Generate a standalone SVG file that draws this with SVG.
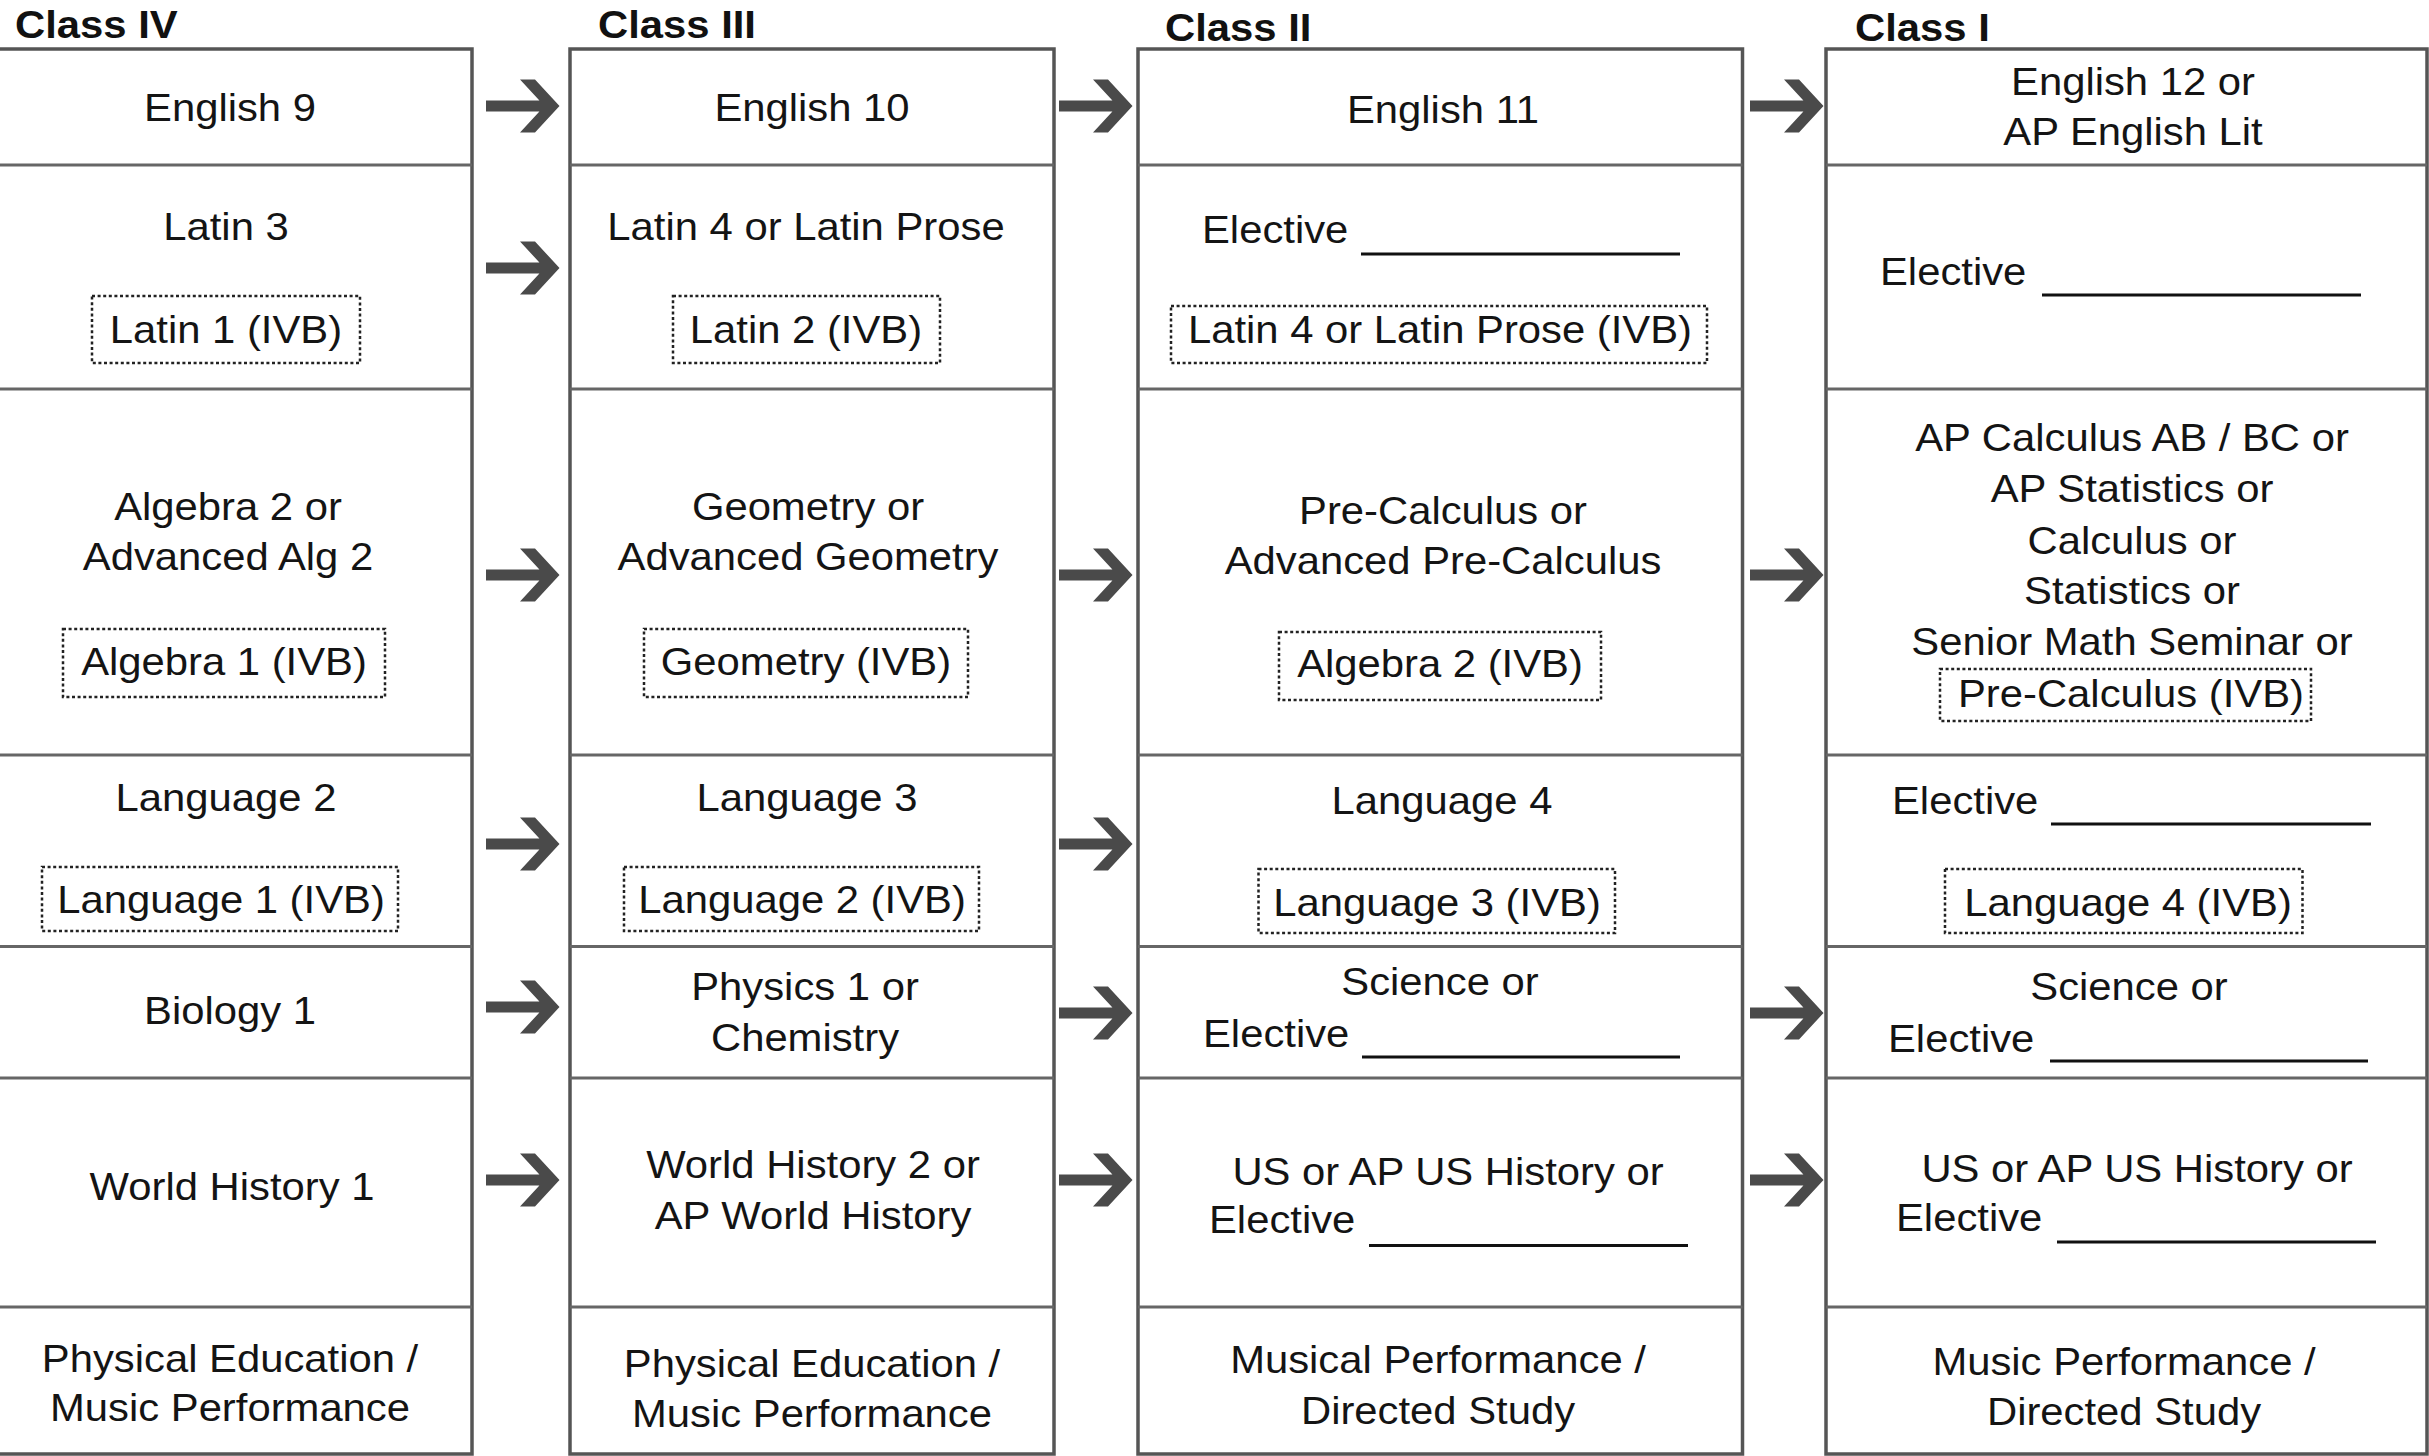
<svg xmlns="http://www.w3.org/2000/svg" xmlns:xlink="http://www.w3.org/1999/xlink" width="2429" height="1456" viewBox="0 0 2429 1456">
<style>
text{font-family:"Liberation Sans",Arial,sans-serif;font-size:38px;fill:#141414}
.h{font-weight:bold;fill:#111}
.c{text-anchor:middle}
.frame{fill:#fff;stroke:#555;stroke-width:3.5}
.div{stroke:#666;stroke-width:3}
.dot{fill:none;stroke:#222;stroke-width:2.5;stroke-dasharray:3 2.6}
.ul{stroke:#111;stroke-width:3}
.arr{fill:#4a4a4a}
</style>
<defs>
<path id="arrow" d="M0,-5.5H60V5.5H0Z M34,-26.5H49L73.5,0L49,26.5H34L58.5,0Z"/>
</defs>
<rect width="2429" height="1456" fill="#fff"/>

<g id="headers">
<text class="h" transform="translate(15,37.5) scale(1.1,1)">Class IV</text>
<text class="h" transform="translate(598,37.5) scale(1.1,1)">Class III</text>
<text class="h" transform="translate(1165,40.5) scale(1.1,1)">Class II</text>
<text class="h" transform="translate(1855,40.5) scale(1.1,1)">Class I</text>
</g>

<g id="frames">
<g id="frame-class-iv">
<rect class="frame" x="-12" y="49" width="484" height="1405"/>
<path class="div" d="M-12,165H472M-12,389H472M-12,755H472M-12,946.5H472M-12,1078H472M-12,1307H472"/>
</g>
<g id="frame-class-iii">
<rect class="frame" x="570" y="49" width="484" height="1405"/>
<path class="div" d="M570,165H1054M570,389H1054M570,755H1054M570,946.5H1054M570,1078H1054M570,1307H1054"/>
</g>
<g id="frame-class-ii">
<rect class="frame" x="1138" y="49" width="604.5" height="1405"/>
<path class="div" d="M1138,165H1742.5M1138,389H1742.5M1138,755H1742.5M1138,946.5H1742.5M1138,1078H1742.5M1138,1307H1742.5"/>
</g>
<g id="frame-class-i">
<rect class="frame" x="1826" y="49" width="601" height="1405"/>
<path class="div" d="M1826,165H2427M1826,389H2427M1826,755H2427M1826,946.5H2427M1826,1078H2427M1826,1307H2427"/>
</g>
</g>

<!-- Class IV -->
<g id="iv-english">
<text class="c" transform="translate(230,120.7) scale(1.1,1)">English 9</text>
</g>
<g id="iv-latin">
<text class="c" transform="translate(226,240) scale(1.1,1)">Latin 3</text>
<rect class="dot" x="92" y="296" width="268" height="67"/>
<text class="c" transform="translate(226,343) scale(1.1,1)">Latin 1 (IVB)</text>
</g>
<g id="iv-math">
<text class="c" transform="translate(228,520) scale(1.1,1)">Algebra 2 or<tspan x="0" dy="50">Advanced Alg 2</tspan></text>
<rect class="dot" x="63" y="629" width="322" height="68"/>
<text class="c" transform="translate(224,675) scale(1.1,1)">Algebra 1 (IVB)</text>
</g>
<g id="iv-language">
<text class="c" transform="translate(226,810.5) scale(1.1,1)">Language 2</text>
<rect class="dot" x="42" y="867" width="356" height="64"/>
<text class="c" transform="translate(221,913) scale(1.1,1)">Language 1 (IVB)</text>
</g>
<g id="iv-science">
<text class="c" transform="translate(230,1024) scale(1.1,1)">Biology 1</text>
</g>
<g id="iv-history">
<text class="c" transform="translate(232,1200) scale(1.1,1)">World History 1</text>
</g>
<g id="iv-arts">
<text class="c" transform="translate(230,1372) scale(1.1,1)">Physical Education /<tspan x="0" dy="49">Music Performance</tspan></text>
</g>

<!-- Class III -->
<g id="iii-english">
<text class="c" transform="translate(812,120.7) scale(1.1,1)">English 10</text>
</g>
<g id="iii-latin">
<text class="c" transform="translate(806,240) scale(1.1,1)">Latin 4 or Latin Prose</text>
<rect class="dot" x="673" y="296" width="267" height="67"/>
<text class="c" transform="translate(806,343) scale(1.1,1)">Latin 2 (IVB)</text>
</g>
<g id="iii-math">
<text class="c" transform="translate(808,520) scale(1.1,1)">Geometry or<tspan x="0" dy="50">Advanced Geometry</tspan></text>
<rect class="dot" x="644" y="629" width="324" height="68"/>
<text class="c" transform="translate(806,675) scale(1.1,1)">Geometry (IVB)</text>
</g>
<g id="iii-language">
<text class="c" transform="translate(807,810.5) scale(1.1,1)">Language 3</text>
<rect class="dot" x="624" y="867" width="355" height="64"/>
<text class="c" transform="translate(802,913) scale(1.1,1)">Language 2 (IVB)</text>
</g>
<g id="iii-science">
<text class="c" transform="translate(805,1000) scale(1.1,1)">Physics 1 or<tspan x="0" dy="51">Chemistry</tspan></text>
</g>
<g id="iii-history">
<text class="c" transform="translate(813,1178) scale(1.1,1)">World History 2 or<tspan x="0" dy="51">AP World History</tspan></text>
</g>
<g id="iii-arts">
<text class="c" transform="translate(812,1377) scale(1.1,1)">Physical Education /<tspan x="0" dy="50">Music Performance</tspan></text>
</g>

<!-- Class II -->
<g id="ii-english">
<text class="c" transform="translate(1443,123) scale(1.1,1)">English 11</text>
</g>
<g id="ii-latin">
<text transform="translate(1202,243) scale(1.1,1)">Elective</text>
<line class="ul" x1="1361" y1="254" x2="1680" y2="254"/>
<rect class="dot" x="1171" y="306" width="536" height="57"/>
<text class="c" transform="translate(1440,343) scale(1.1,1)">Latin 4 or Latin Prose (IVB)</text>
</g>
<g id="ii-math">
<text class="c" transform="translate(1443,523.5) scale(1.1,1)">Pre-Calculus or<tspan x="0" dy="51">Advanced Pre-Calculus</tspan></text>
<rect class="dot" x="1279" y="632" width="322" height="68"/>
<text class="c" transform="translate(1440,676.6) scale(1.1,1)">Algebra 2 (IVB)</text>
</g>
<g id="ii-language">
<text class="c" transform="translate(1442,813.6) scale(1.1,1)">Language 4</text>
<rect class="dot" x="1258.5" y="869" width="356.5" height="64"/>
<text class="c" transform="translate(1437,916) scale(1.1,1)">Language 3 (IVB)</text>
</g>
<g id="ii-science">
<text class="c" transform="translate(1440,994.5) scale(1.1,1)">Science or</text>
<text transform="translate(1203,1046.5) scale(1.1,1)">Elective</text>
<line class="ul" x1="1362" y1="1057" x2="1680" y2="1057"/>
</g>
<g id="ii-history">
<text class="c" transform="translate(1448,1185) scale(1.1,1)">US or AP US History or</text>
<text transform="translate(1209,1233) scale(1.1,1)">Elective</text>
<line class="ul" x1="1369" y1="1245.5" x2="1688" y2="1245.5"/>
</g>
<g id="ii-arts">
<text class="c" transform="translate(1438,1373) scale(1.1,1)">Musical Performance /<tspan x="0" dy="51">Directed Study</tspan></text>
</g>

<!-- Class I -->
<g id="i-english">
<text class="c" transform="translate(2133,95) scale(1.1,1)">English 12 or<tspan x="0" dy="50">AP English Lit</tspan></text>
</g>
<g id="i-latin">
<text transform="translate(1880,285) scale(1.1,1)">Elective</text>
<line class="ul" x1="2042" y1="295" x2="2361" y2="295"/>
</g>
<g id="i-math">
<text class="c" transform="translate(2132,451) scale(1.1,1)">AP Calculus AB / BC or<tspan x="0" dy="51">AP Statistics or</tspan><tspan x="0" dy="52">Calculus or</tspan><tspan x="0" dy="50">Statistics or</tspan><tspan x="0" dy="51.5">Senior Math Seminar or</tspan></text>
<rect class="dot" x="1940" y="669" width="371" height="52"/>
<text class="c" transform="translate(2131,707) scale(1.1,1)">Pre-Calculus (IVB)</text>
</g>
<g id="i-language">
<text transform="translate(1892,813.6) scale(1.1,1)">Elective</text>
<line class="ul" x1="2051" y1="824" x2="2371" y2="824"/>
<rect class="dot" x="1945" y="869" width="357.5" height="64"/>
<text class="c" transform="translate(2128,916) scale(1.1,1)">Language 4 (IVB)</text>
</g>
<g id="i-science">
<text class="c" transform="translate(2129,1000) scale(1.1,1)">Science or</text>
<text transform="translate(1888,1051.6) scale(1.1,1)">Elective</text>
<line class="ul" x1="2050" y1="1061" x2="2368" y2="1061"/>
</g>
<g id="i-history">
<text class="c" transform="translate(2137,1181.5) scale(1.1,1)">US or AP US History or</text>
<text transform="translate(1896,1231) scale(1.1,1)">Elective</text>
<line class="ul" x1="2057" y1="1242" x2="2376" y2="1242"/>
</g>
<g id="i-arts">
<text class="c" transform="translate(2124,1375) scale(1.1,1)">Music Performance /<tspan x="0" dy="50">Directed Study</tspan></text>
</g>

<g id="connectors" class="arr">
<use xlink:href="#arrow" x="486" y="106"/>
<use xlink:href="#arrow" x="486" y="268"/>
<use xlink:href="#arrow" x="486" y="575"/>
<use xlink:href="#arrow" x="486" y="844"/>
<use xlink:href="#arrow" x="486" y="1007"/>
<use xlink:href="#arrow" x="486" y="1180"/>
<use xlink:href="#arrow" x="1059" y="106"/>
<use xlink:href="#arrow" x="1059" y="575"/>
<use xlink:href="#arrow" x="1059" y="844"/>
<use xlink:href="#arrow" x="1059" y="1013"/>
<use xlink:href="#arrow" x="1059" y="1180"/>
<use xlink:href="#arrow" x="1750" y="106"/>
<use xlink:href="#arrow" x="1750" y="575"/>
<use xlink:href="#arrow" x="1750" y="1013"/>
<use xlink:href="#arrow" x="1750" y="1180"/>
</g>
</svg>
